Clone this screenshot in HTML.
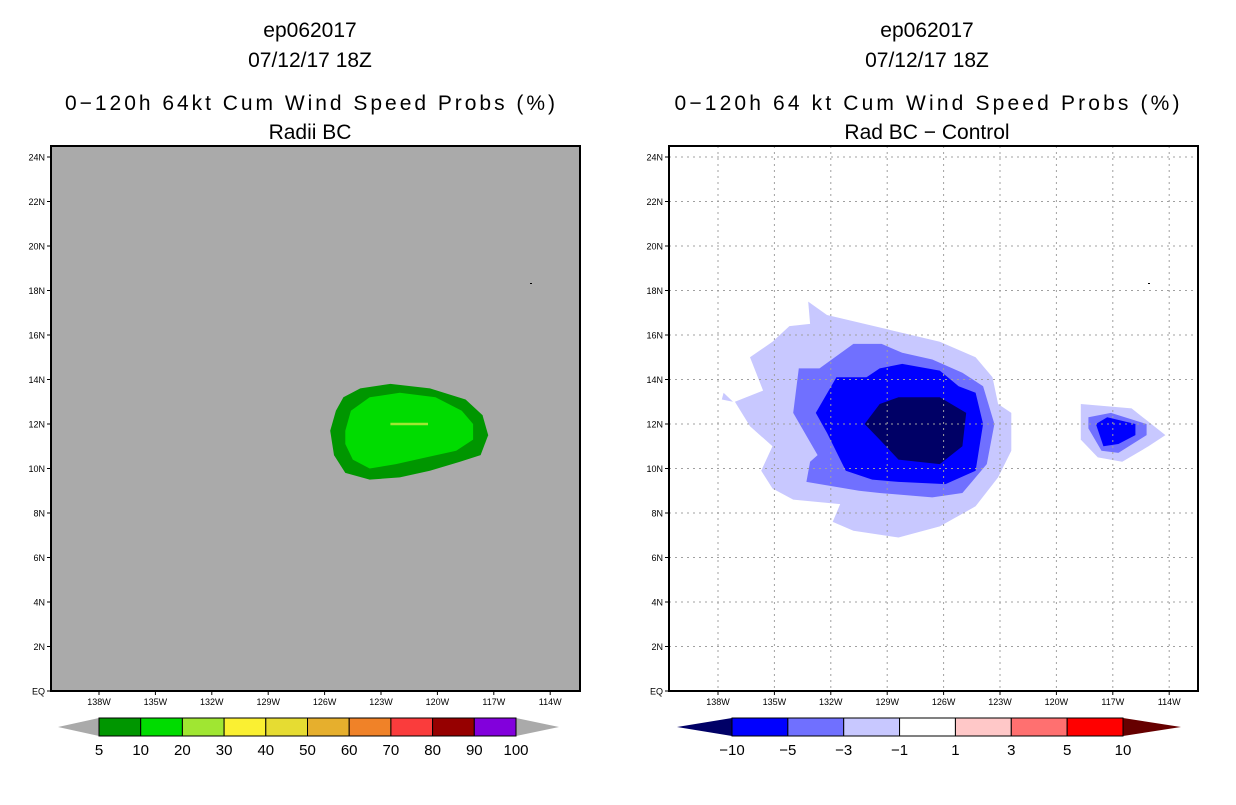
<!DOCTYPE html>
<html><head><meta charset="utf-8"><style>
html,body{margin:0;padding:0;background:#fff;}
svg text{font-family:"Liberation Sans","DejaVu Sans",sans-serif;fill:#000;}
</style></head><body>
<svg id="c" width="1236" height="800" xmlns="http://www.w3.org/2000/svg">
<text x="310" y="37" font-size="21" text-anchor="middle">ep062017</text>
<text x="310" y="67" font-size="21" text-anchor="middle">07/12/17 18Z</text>
<text x="310" y="110" font-size="21" text-anchor="middle" textLength="490">0−120h 64kt Cum Wind Speed Probs (%)</text>
<text x="310" y="139" font-size="21" text-anchor="middle">Radii BC</text>
<text x="927" y="37" font-size="21" text-anchor="middle">ep062017</text>
<text x="927" y="67" font-size="21" text-anchor="middle">07/12/17 18Z</text>
<text x="927" y="110" font-size="21" text-anchor="middle" textLength="505">0−120h 64 kt Cum Wind Speed Probs (%)</text>
<text x="927" y="139" font-size="21" text-anchor="middle">Rad BC − Control</text>
</svg>
<script>
// ---- data ----
const lonTicks = [138,135,132,129,126,123,120,117,114];
const latTicks = [0,2,4,6,8,10,12,14,16,18,20,22,24];
const leftLevels = ["5","10","20","30","40","50","60","70","80","90","100"];
const leftColors = ["#009600","#00dc00","#a0e632","#faf032","#e6dc32","#e6af2d","#f08228","#fa3c3c","#960000","#8200dc"];
const rightLevels = ["−10","−5","−3","−1","1","3","5","10"];
const rightColors = ["#0000ff","#7070ff","#c8c8ff","#ffffff","#ffc8c8","#ff7070","#ff0000"];
// left field contours [lonW, latN]
const probOuter = [[125.7,11.7],[125.4,12.6],[125.0,13.2],[124.1,13.6],[122.5,13.8],[120.4,13.6],[118.5,13.1],[117.6,12.4],[117.3,11.5],[117.7,10.6],[118.8,10.3],[120.4,9.9],[122.0,9.6],[123.6,9.5],[124.9,9.8],[125.5,10.6]];
const probInner = [[124.9,11.7],[124.6,12.6],[123.6,13.2],[122.0,13.4],[120.1,13.2],[118.7,12.6],[118.1,12.0],[118.1,11.3],[119.0,10.8],[120.6,10.5],[122.2,10.2],[123.6,10.0],[124.5,10.4],[124.9,11.1]];
const probCore = [[122.5,12.06],[120.5,12.06],[120.5,11.94],[122.5,11.94]];
// right field contours
const diffLight = [[133.2,17.5],[132.2,16.9],[128.7,16.2],[126.2,15.7],[124.3,15.0],[123.4,14.1],[123.1,12.9],[122.4,12.5],[122.4,10.8],[123.1,9.6],[124.3,8.3],[126.2,7.4],[128.4,6.9],[130.8,7.2],[131.9,7.6],[131.5,8.4],[134.0,8.6],[135.1,9.1],[135.7,9.9],[135.1,11.0],[136.3,11.9],[137.1,13.0],[135.6,13.5],[136.3,15.0],[135.1,15.7],[134.2,16.4],[133.1,16.5]];
const diffTail = [[137.8,13.1],[137.7,13.4],[137.2,13.0]];
const diffMed = [[133.7,14.5],[132.6,14.5],[130.8,15.6],[129.3,15.6],[128.2,15.2],[126.6,14.9],[125.0,14.3],[123.9,13.7],[123.3,12.0],[123.7,10.2],[125.0,8.9],[126.6,8.7],[129.4,8.9],[130.5,9.0],[133.3,9.4],[133.1,10.3],[132.7,10.6],[134.0,12.5]];
const diffBlue = [[131.7,14.1],[130.1,14.1],[129.4,14.5],[128.2,14.7],[126.2,14.4],[125.2,13.7],[124.3,13.4],[123.9,12.0],[124.3,9.9],[125.9,9.3],[128.4,9.4],[129.8,9.5],[131.2,9.9],[132.2,11.6],[132.8,12.5]];
const diffNavy = [[129.4,12.9],[128.4,13.2],[126.2,13.2],[124.8,12.5],[125.0,11.0],[126.2,10.2],[128.4,10.4],[129.4,11.3],[130.2,12.0]];
const smallLight = [[118.7,12.9],[116.0,12.7],[114.2,11.5],[115.1,11.0],[116.5,10.3],[117.8,10.5],[118.7,11.3]];
const smallMed = [[118.3,12.3],[117.1,12.5],[115.2,12.0],[115.2,11.5],[116.7,10.7],[117.6,10.8],[118.3,11.8]];
const smallBlue = [[117.9,12.0],[117.3,12.3],[115.8,12.0],[115.8,11.5],[116.7,11.1],[117.5,11.0]];

const NS="http://www.w3.org/2000/svg";
const svg=document.getElementById('c');
function mk(t,a,parent){const e=document.createElementNS(NS,t);for(const k in a)e.setAttribute(k,a[k]);(parent||svg).appendChild(e);return e;}

function panel(side,x0,x138){
  const fx0=x0, fx1=x0+529, fy0=146, fy1=691;
  const xs=w=>x138+(138-w)*18.8;
  const ys=l=>fy1-l*22.25;
  const g=mk('g',{});
  
  
  const bg=mk('rect',{x:fx0,y:fy0,width:fx1-fx0,height:fy1-fy0,fill:side==='left'?'#aaaaaa':'#ffffff'},g);
  
  
  function poly(pts,fill,name){
    const p=mk('polygon',{points:pts.map(q=>xs(q[0]).toFixed(1)+','+ys(q[1]).toFixed(1)).join(' '),fill:fill},g);
    
    
  }
  if(side==='left'){
    poly(probOuter,'#009600','prob-5-10-contour');
    poly(probInner,'#00dc00','prob-10-20-contour');
    poly(probCore,'#a0e632','prob-20-30-contour');
  } else {
    poly(diffLight,'#c8c8ff','diff-minus1-contour');
    poly(diffTail,'#c8c8ff','diff-minus1-tail');
    poly(diffMed,'#7070ff','diff-minus3-contour');
    poly(diffBlue,'#0000ff','diff-minus5-contour');
    poly(diffNavy,'#000066','diff-minus10-contour');
    poly(smallLight,'#c8c8ff','small-diff-minus1');
    poly(smallMed,'#7070ff','small-diff-minus3');
    poly(smallBlue,'#0000ff','small-diff-minus5');
    lonTicks.forEach(w=>{const l=mk('line',{x1:xs(w),x2:xs(w),y1:fy0,y2:fy1,stroke:'#a0a0a0','stroke-dasharray':'2,4'},g);
      });
    latTicks.forEach(t=>{const l=mk('line',{x1:fx0,x2:fx1,y1:ys(t),y2:ys(t),stroke:'#a0a0a0','stroke-dasharray':'2,4'},g);
      });
  }
  const dot=mk('rect',{x:fx0+479,y:283,width:2,height:1,fill:'#000'},g);
  
  const fr=mk('rect',{x:fx0,y:fy0,width:fx1-fx0,height:fy1-fy0,fill:'none',stroke:'#000','stroke-width':2},g);
  
  latTicks.forEach(t=>{
    mk('line',{x1:fx0-4,x2:fx0,y1:ys(t),y2:ys(t),stroke:'#000'},g);
    const tx=mk('text',{x:fx0-6,y:ys(t)+3.5,'font-size':9,'text-anchor':'end'},g);
    tx.textContent=t===0?'EQ':t+'N';
    
  });
  lonTicks.forEach(w=>{
    mk('line',{x1:xs(w),x2:xs(w),y1:fy1,y2:fy1+4,stroke:'#000'},g);
    const tx=mk('text',{x:xs(w),y:fy1+14,'font-size':9,'text-anchor':'middle'},g);
    tx.textContent=w+'W';
    
  });
}
panel('left',51,99);
panel('right',669,718);

function colorbar(side,xL,x0,x1,xR,colors,levels,lowC,highC){
  const g=mk('g',{});
  
  
  const y0=718,y1=736,ym=727;
  const n=colors.length,w=(x1-x0)/n;
  const lt=mk('polygon',{points:`${xL},${ym} ${x0},${y0} ${x0},${y1}`,fill:lowC},g);
  
  const rt=mk('polygon',{points:`${xR},${ym} ${x1},${y0} ${x1},${y1}`,fill:highC},g);
  
  colors.forEach((c,i)=>{
    const r=mk('rect',{x:x0+i*w,y:y0,width:w,height:y1-y0,fill:c,stroke:'#000','stroke-width':1},g);
    
  });
  levels.forEach((s,i)=>{
    const t=mk('text',{x:x0+i*w,y:755,'font-size':15,'text-anchor':'middle'},g);
    t.textContent=s;
    
  });
}
colorbar('left',58,99,516,559,leftColors,leftLevels,'#aaaaaa','#aaaaaa');
colorbar('right',677,732,1123,1181,rightColors,rightLevels,'#000066','#660000');
</script>
</body></html>
